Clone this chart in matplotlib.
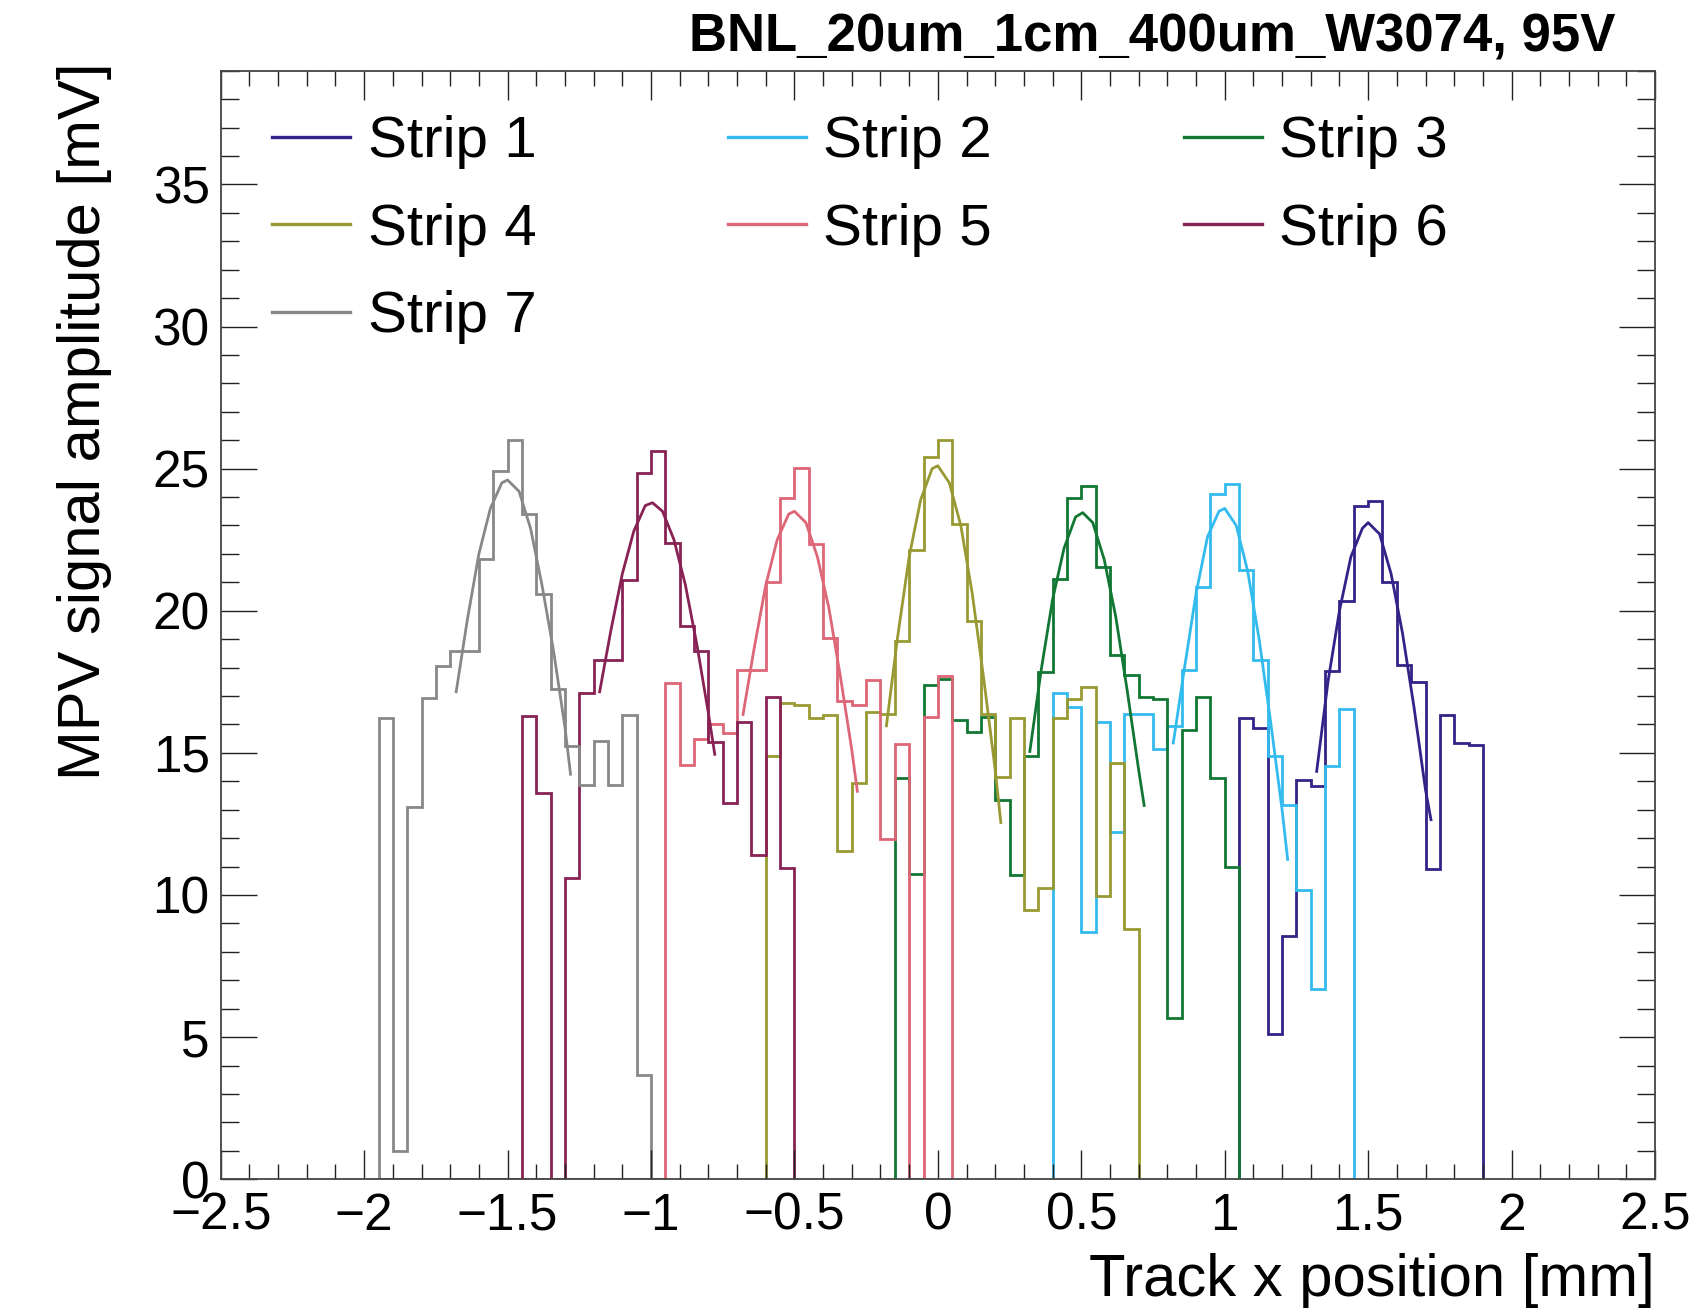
import matplotlib

matplotlib.use("Agg")
import matplotlib.pyplot as plt
import numpy as np
from matplotlib.lines import Line2D
from matplotlib.ticker import MultipleLocator

plt.rcParams["font.family"] = ["Liberation Sans", "DejaVu Sans"]

BIN_W = 0.05  # mm

names = [f"Strip {i}" for i in range(1, 8)]
colors = ["#332288", "#33BBEE", "#117733", "#999933", "#DD6677", "#882255", "#888888"]

# MPV per x-bin (low edge of first bin, then contents in mV)
s1_start = 1.05
s1_mpv = [16.22, 15.88, 5.11, 8.56, 14.03, 13.83, 17.88, 20.36, 23.69, 23.87, 21.02,
          18.08, 17.48, 10.92, 16.32, 15.36, 15.29]
s2_start = 0.40
s2_mpv = [17.1, 16.62, 8.71, 16.1, 12.2, 16.36, 16.36, 15.15, 15.93, 17.91, 20.85,
          24.12, 24.47, 21.45, 18.26, 14.89, 13.17, 10.18, 6.7, 14.55, 16.53]
s3_start = -0.15
s3_mpv = [14.1, 10.75, 17.4, 17.6, 16.15, 15.75, 16.27, 13.34, 10.7, 14.9, 17.83, 21.1,
          23.95, 24.38, 21.54, 18.43, 17.74, 16.96, 16.88, 5.66, 15.8, 16.96, 14.1, 10.97]
s4_start = -0.60
s4_mpv = [14.9, 16.74, 16.7, 16.24, 16.32, 11.56, 13.94, 16.45, 16.36, 18.95, 22.14,
          25.42, 26.02, 23.05, 19.64, 16.36, 14.15, 16.24, 9.46, 10.23, 16.24, 16.91,
          17.31, 9.97, 14.63, 8.82]
s5_start = -1.45
s5_mpv = [0, 0, 0, 0, 0, 0, 0, 0, 0, 0, 17.45, 14.58, 15.5, 16.0, 15.7, 17.9, 17.9,
          21.02, 23.95, 25.02, 22.36, 19.03, 16.84, 16.7, 17.57, 11.96, 15.32, 0, 16.27, 17.7]
s6_start = -1.95
s6_mpv = [0, 0, 0, 0, 0, 0, 0, 0, 0, 0, 16.3, 13.6, 0, 10.6, 17.1, 18.26, 18.26, 21.07,
          24.85, 25.63, 22.4, 19.47, 18.57, 15.38, 13.22, 16.1, 11.39, 16.96, 10.96]
s7_start = -1.95
s7_mpv = [16.24, 1.0, 13.1, 16.93, 18.05, 18.57, 18.57, 21.83, 24.9, 26.02, 23.4, 20.59,
          17.26, 15.24, 13.86, 15.4, 13.86, 16.32, 3.68]

# fitted curves, points
s1_fit_x = [1.32, 1.36, 1.40, 1.44, 1.48, 1.50, 1.54, 1.58, 1.62, 1.66, 1.70, 1.72]
s1_fit_y = [14.3, 17.5, 20.0, 21.9, 22.9, 23.1, 22.7, 21.3, 19.2, 16.6, 13.7, 12.6]
s2_fit_x = [0.82, 0.86, 0.90, 0.94, 0.98, 1.00, 1.04, 1.08, 1.12, 1.16, 1.20, 1.22]
s2_fit_y = [15.3, 18.0, 20.6, 22.6, 23.5, 23.6, 23.0, 21.4, 19.0, 16.1, 13.0, 11.2]
s3_fit_x = [0.32, 0.36, 0.40, 0.44, 0.48, 0.505, 0.54, 0.58, 0.62, 0.66, 0.70, 0.72]
s3_fit_y = [15.0, 17.9, 20.4, 22.2, 23.3, 23.45, 23.1, 21.8, 19.8, 17.2, 14.4, 13.1]
s4_fit_x = [-0.18, -0.14, -0.10, -0.06, -0.02, 0.00, 0.04, 0.08, 0.12, 0.16, 0.20, 0.22]
s4_fit_y = [15.9, 19.1, 21.9, 23.9, 25.0, 25.1, 24.5, 23.0, 20.6, 17.6, 14.4, 12.5]
s5_fit_x = [-0.68, -0.64, -0.60, -0.56, -0.52, -0.50, -0.46, -0.42, -0.38, -0.34, -0.30, -0.28]
s5_fit_y = [16.3, 18.7, 20.9, 22.5, 23.4, 23.5, 23.1, 21.9, 20.1, 17.7, 15.1, 13.6]
s6_fit_x = [-1.18, -1.14, -1.10, -1.06, -1.02, -0.995, -0.96, -0.92, -0.88, -0.84, -0.80, -0.777]
s6_fit_y = [17.1, 19.3, 21.3, 22.8, 23.7, 23.8, 23.5, 22.5, 20.9, 18.8, 16.4, 14.9]
s7_fit_x = [-1.68, -1.64, -1.60, -1.56, -1.52, -1.50, -1.46, -1.42, -1.38, -1.34, -1.30, -1.28]
s7_fit_y = [17.1, 19.7, 22.0, 23.6, 24.5, 24.6, 24.2, 22.9, 20.9, 18.6, 15.9, 14.2]

starts = [s1_start, s2_start, s3_start, s4_start, s5_start, s6_start, s7_start]
mpvs = [s1_mpv, s2_mpv, s3_mpv, s4_mpv, s5_mpv, s6_mpv, s7_mpv]
fits = [(s1_fit_x, s1_fit_y), (s2_fit_x, s2_fit_y), (s3_fit_x, s3_fit_y),
        (s4_fit_x, s4_fit_y), (s5_fit_x, s5_fit_y), (s6_fit_x, s6_fit_y),
        (s7_fit_x, s7_fit_y)]

W, H = 1705, 1313
fig = plt.figure(figsize=(W / 100, H / 100), dpi=100)
ax = fig.add_axes([203 / 1568, 1 - 1084 / 1207, (1522 - 203) / 1568, (1084 - 65) / 1207])

LW = 2.0
for start, vals, (fx, fy), c in zip(starts, mpvs, fits, colors):
    edges = start + BIN_W * np.arange(len(vals) + 1)
    ax.stairs(vals, edges, baseline=0, color=c, lw=LW)
    ax.plot(fx, fy, color=c, lw=LW, solid_capstyle="butt")

ax.set_xlim(-2.5, 2.5)
ax.set_ylim(0, 39)
ax.xaxis.set_major_locator(MultipleLocator(0.5))
ax.xaxis.set_minor_locator(MultipleLocator(0.1))
ax.yaxis.set_major_locator(MultipleLocator(5))
ax.yaxis.set_minor_locator(MultipleLocator(1))
ax.xaxis.set_major_formatter(plt.FuncFormatter(lambda v, p: f"{v:g}".replace("-", "\u2212")))
ax.tick_params(which="both", direction="in", top=True, right=True, width=1.0, color="#222222")
ax.tick_params(axis="x", which="major", length=21, labelsize=37, pad=9)
ax.tick_params(axis="x", which="minor", length=11)
ax.tick_params(axis="y", which="major", length=26, labelsize=37, pad=8)
ax.tick_params(axis="y", which="minor", length=13)
for sp in ax.spines.values():
    sp.set_linewidth(1.3)
    sp.set_color("#444444")

handles = [Line2D([], [], color=c, lw=2.4) for c in colors]
order = [0, 3, 6, 1, 4, 2, 5]
ax.legend([handles[i] for i in order], [names[i] for i in order], ncol=3, loc="upper left",
          bbox_to_anchor=(0.0358, 0.960), frameon=False, fontsize=42, handlelength=1.34,
          handletextpad=0.30, columnspacing=3.28, labelspacing=0.575, borderaxespad=0,
          borderpad=0)

fig.text(1615 / W, 1 - 38 / H, "BNL_20um_1cm_400um_W3074, 95V", ha="right", va="center",
         fontsize=38, fontweight="bold")
fig.text(85 / W, 1 - 62 / H, "MPV signal amplitude [mV]", rotation=90, ha="center",
         va="top", fontsize=43)
fig.text(1655 / W, 1 - 1281 / H, "Track x position [mm]", ha="right", va="center", fontsize=43)

fig.savefig("out.png", dpi=100)
